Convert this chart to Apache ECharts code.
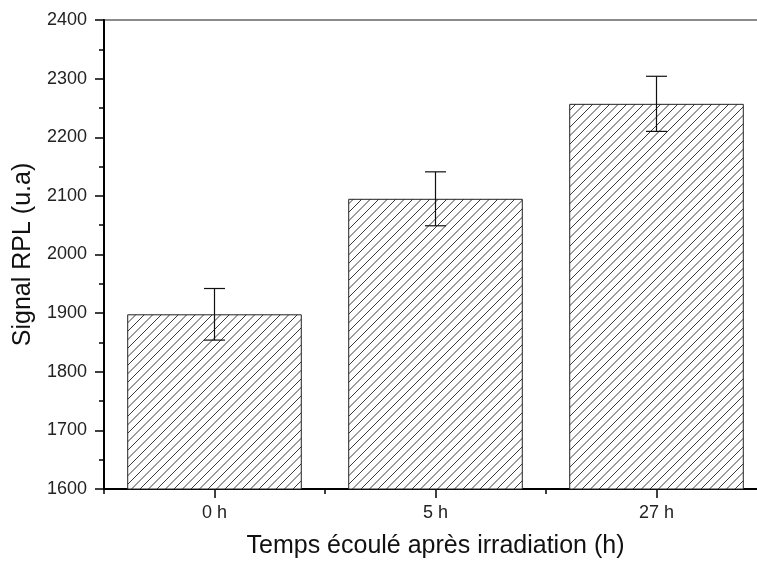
<!DOCTYPE html>
<html>
<head>
<meta charset="utf-8">
<script src="https://cdn.jsdelivr.net/npm/echarts@6/dist/echarts.min.js"></script>
<style>
html,body{margin:0;padding:0;background:#fff;overflow:hidden;}
#chart{width:757px;height:563px;}
</style>
</head>
<body>
<div id="chart"></div>
<script>
const categories = ['0 h', '5 h', '27 h'];
const signalValues = [1898, 2095, 2257];
const signalErrors = [44, 46, 47];
const yTicks = [1600, 1700, 1800, 1900, 2000, 2100, 2200, 2300, 2400];
const xTitle = 'Temps écoulé après irradiation (h)';
const yTitle = 'Signal RPL (u.a)';

function hatchPattern() {
  const s = 17;
  const c = document.createElement('canvas');
  c.width = s; c.height = s;
  const g = c.getContext('2d');
  g.fillStyle = '#ffffff';
  g.fillRect(0, 0, s, s);
  g.strokeStyle = '#3a3a3a';
  g.lineWidth = 1;
  [0, 8.5, 17, 25.5, 34].forEach(k => {
    g.beginPath();
    g.moveTo(k + 2, -2);
    g.lineTo(-2, k + 2);
    g.stroke();
  });
  return c;
}

const errData = categories.map((c, i) => [i, signalValues[i] - signalErrors[i], signalValues[i] + signalErrors[i]]);
const font = "'Liberation Sans', Arial, sans-serif";

const chart = echarts.init(document.getElementById('chart'), null, {renderer: 'canvas'});
chart.setOption({
  backgroundColor: '#fff',
  animation: false,
  grid: {left: 104, top: 20, width: 663, height: 469, outerBoundsMode: 'none', containLabel: false,
         show: true, borderColor: '#666', borderWidth: 1.5, backgroundColor: 'transparent'},
  xAxis: [{
    type: 'category', data: categories, position: 'bottom',
    name: xTitle, nameLocation: 'middle', nameGap: 45,
    nameTextStyle: {fontFamily: font, fontSize: 25, color: '#111'},
    axisLine: {show: true, lineStyle: {color: '#000', width: 2}},
    axisTick: {show: true, alignWithLabel: true, length: 9, lineStyle: {color: '#000', width: 1.5}},
    axisLabel: {fontFamily: font, fontSize: 18, color: '#222', margin: 15},
    splitLine: {show: false}
  }, {
    type: 'category', data: categories, position: 'bottom',
    axisLine: {show: false},
    axisTick: {show: true, alignWithLabel: false, length: 5, lineStyle: {color: '#000', width: 1.5}},
    axisLabel: {show: false},
    splitLine: {show: false}
  }],
  yAxis: {
    type: 'value', min: yTicks[0], max: yTicks[yTicks.length - 1], interval: 100,
    name: yTitle, nameLocation: 'middle', nameGap: 66,
    nameTextStyle: {fontFamily: font, fontSize: 25, color: '#111'},
    axisLine: {show: true, lineStyle: {color: '#000', width: 2}},
    axisTick: {show: true, length: 9, lineStyle: {color: '#000', width: 1.5}},
    minorTick: {show: true, splitNumber: 2, length: 5, lineStyle: {color: '#000', width: 1.5}},
    axisLabel: {fontFamily: font, fontSize: 18, color: '#222', margin: 17, formatter: v => String(v)},
    splitLine: {show: false}
  },
  series: [{
    type: 'bar', data: signalValues, barWidth: '79%', xAxisIndex: 0,
    itemStyle: {color: {image: hatchPattern(), repeat: 'repeat'}, borderColor: '#222', borderWidth: 1},
    z: 2
  }, {
    type: 'custom', data: errData, xAxisIndex: 0, z: 5,
    renderItem: function (params, api) {
      const x = api.value(0);
      const lo = api.coord([x, api.value(1)]);
      const hi = api.coord([x, api.value(2)]);
      const w = 10.5;
      const st = {stroke: '#111', lineWidth: 1.2};
      return {type: 'group', children: [
        {type: 'line', shape: {x1: lo[0], y1: lo[1], x2: hi[0], y2: hi[1]}, style: st},
        {type: 'line', shape: {x1: lo[0] - w, y1: lo[1], x2: lo[0] + w, y2: lo[1]}, style: st},
        {type: 'line', shape: {x1: hi[0] - w, y1: hi[1], x2: hi[0] + w, y2: hi[1]}, style: st}
      ]};
    }
  }]
});
</script>
</body>
</html>
